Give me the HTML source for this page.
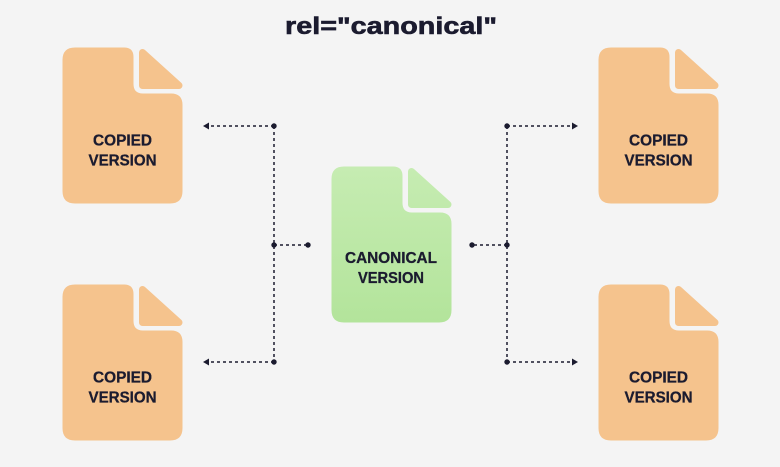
<!DOCTYPE html>
<html><head><meta charset="utf-8"><style>
html,body{margin:0;padding:0;background:#f4f4f4;}
svg{display:block;}
text{font-family:"Liberation Sans",Arial,sans-serif;font-weight:bold;fill:#1b1b2f;}
</style></head><body>
<svg width="780" height="467" viewBox="0 0 780 467" xmlns="http://www.w3.org/2000/svg">
<defs>
  <linearGradient id="g" gradientUnits="userSpaceOnUse" x1="0" y1="0" x2="0" y2="155">
    <stop offset="0" stop-color="#c6ecb2"/>
    <stop offset="1" stop-color="#b3e49b"/>
  </linearGradient>
  <g id="doc">
    <path d="M12,0 H61 Q70,0 70,9 V36 Q70,46 80,46 H108 Q119,46 119,57 V143 Q119,155 107,155 H12 Q0,155 0,143 V12 Q0,0 12,0 Z"/>
    <polygon points="79.5,4.5 116,37.5 79.5,37.5" stroke-width="7" stroke-linejoin="round"/>
  </g>
</defs>
<rect width="780" height="467" fill="#f4f4f4"/>

<text x="285" y="34" font-size="24" textLength="212" lengthAdjust="spacingAndGlyphs" stroke="#1b1b2f" stroke-width="0.6">rel="canonical"</text>

<!-- documents -->
<g fill="#f5c38d" stroke="#f5c38d">
  <use href="#doc" x="63" y="48"/>
  <use href="#doc" x="63" y="285"/>
  <use href="#doc" x="599" y="48"/>
  <use href="#doc" x="599" y="285"/>
</g>
<g fill="url(#g)" stroke="url(#g)">
  <use href="#doc" x="332" y="167"/>
</g>

<!-- labels -->
<g font-size="15.5" text-anchor="middle" stroke="#1b1b2f" stroke-width="0.3">
  <text x="122.5" y="145.5" textLength="59" lengthAdjust="spacingAndGlyphs">COPIED</text>
  <text x="122.5" y="165.5" textLength="68" lengthAdjust="spacingAndGlyphs">VERSION</text>
  <text x="122.5" y="382.5" textLength="59" lengthAdjust="spacingAndGlyphs">COPIED</text>
  <text x="122.5" y="402.5" textLength="68" lengthAdjust="spacingAndGlyphs">VERSION</text>
  <text x="658.5" y="145.5" textLength="59" lengthAdjust="spacingAndGlyphs">COPIED</text>
  <text x="658.5" y="165.5" textLength="68" lengthAdjust="spacingAndGlyphs">VERSION</text>
  <text x="658.5" y="382.5" textLength="59" lengthAdjust="spacingAndGlyphs">COPIED</text>
  <text x="658.5" y="402.5" textLength="68" lengthAdjust="spacingAndGlyphs">VERSION</text>
  <text x="391" y="263" textLength="92" lengthAdjust="spacingAndGlyphs">CANONICAL</text>
  <text x="391" y="283" textLength="66" lengthAdjust="spacingAndGlyphs">VERSION</text>
</g>

<!-- connectors -->
<g stroke="#1b1b2f" stroke-width="1.5" stroke-dasharray="3 3" fill="none">
  <line x1="274" y1="126" x2="274" y2="362"/>
  <line x1="274" y1="126" x2="208" y2="126"/>
  <line x1="274" y1="362" x2="208" y2="362"/>
  <line x1="274" y1="245" x2="308" y2="245"/>
  <line x1="507" y1="126" x2="507" y2="362"/>
  <line x1="507" y1="126" x2="573" y2="126"/>
  <line x1="507" y1="362" x2="573" y2="362"/>
  <line x1="507" y1="245" x2="472" y2="245"/>
</g>
<g fill="#1b1b2f">
  <circle cx="274" cy="126" r="2.7"/>
  <circle cx="274" cy="245" r="2.7"/>
  <circle cx="308" cy="245" r="2.7"/>
  <circle cx="274" cy="362" r="2.7"/>
  <circle cx="507" cy="126" r="2.7"/>
  <circle cx="507" cy="245" r="2.7"/>
  <circle cx="472" cy="245" r="2.7"/>
  <circle cx="507" cy="362" r="2.7"/>
  <polygon points="203,126 209,122.5 209,129.5"/>
  <polygon points="203,362 209,358.5 209,365.5"/>
  <polygon points="578,126 572,122.5 572,129.5"/>
  <polygon points="578,362 572,358.5 572,365.5"/>
</g>
</svg>
</body></html>
